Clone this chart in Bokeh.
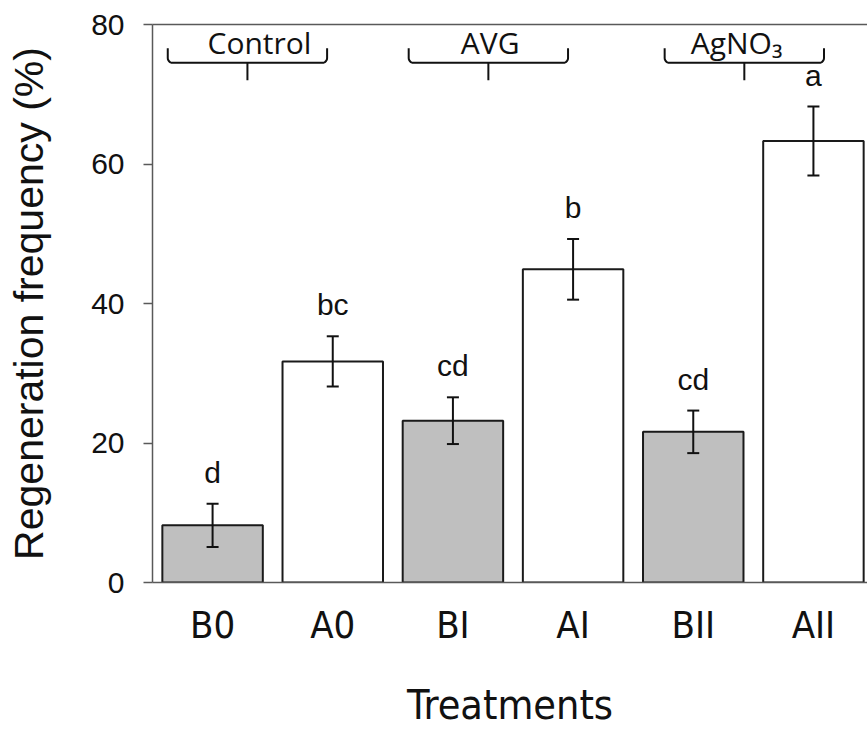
import numpy as np
from bokeh.plotting import figure
from bokeh.models import (Range1d, LinearAxis, Whisker, TeeHead, ColumnDataSource,
                          FixedTicker)
from bokeh.core.properties import value
from bokeh.embed import file_html
from bokeh.resources import INLINE

# ---- data ----
treatments = ["B0", "A0", "BI", "AI", "BII", "AII"]
means = [8.2, 31.7, 23.2, 44.9, 21.6, 63.3]
errors = [3.1, 3.6, 3.35, 4.35, 3.05, 4.95]
letters = ["d", "bc", "cd", "b", "cd", "a"]
groups = ["Control", "AVG", "AgNO\u2083"]
group_first = [0, 2, 4]
y_ticks = [0, 20, 40, 60, 80]

# ---- styles / layout ----
fill_by_kind = {"B": "#bfbfbf", "A": "#ffffff"}
AXIS_COLOR = "#595959"
TEXT_COLOR = "#111111"
NARROW = "'Liberation Sans Narrow', 'Arial Narrow', 'DejaVu Sans Condensed', 'Liberation Sans', sans-serif"
bracket_offset = [-0.21, -0.205, -0.075]
text_offset = [0.10, 0.015, -0.065]
bracket_hw = 0.663
y_mid, y_hook, y_stem, y_label = 74.5, 76.6, 72.0, 77.4
letter_gap = 4.5

x = list(range(len(treatments)))
colors = [fill_by_kind[t[0]] for t in treatments]
upper = [m + e for m, e in zip(means, errors)]
lower = [m - e for m, e in zip(means, errors)]
src = ColumnDataSource(dict(x=x, top=means, color=colors, upper=upper, lower=lower,
                            ly=[u + letter_gap for u in upper], letters=letters))

p = figure(width=867, height=731, x_range=Range1d(-0.5, 5.45), y_range=Range1d(0, 80),
           output_backend="svg", toolbar_location=None,
           min_border_left=152, min_border_right=0, min_border_top=24, min_border_bottom=148)
p.xgrid.visible = False
p.ygrid.visible = False
p.outline_line_color = None
p.background_fill_color = "white"
p.border_fill_color = "white"

p.vbar(x="x", top="top", bottom=0, width=0.836, fill_color="color", line_color="#1a1a1a",
       line_width=2, source=src)

w = Whisker(base="x", upper="upper", lower="lower", source=src, line_width=2, line_color="#111111",
            upper_head=TeeHead(size=12, line_width=2, line_color="#111111"),
            lower_head=TeeHead(size=12, line_width=2, line_color="#111111"),
            level="overlay")
p.add_layout(w)

p.text(x="x", y="ly", text="letters", source=src, text_align="center", text_baseline="alphabetic",
       text_font=value("Liberation Sans"), text_font_size=value("30px"), text_color=TEXT_COLOR)

# group braces
for i, g in enumerate(groups):
    cx = group_first[i] + 0.5 + bracket_offset[i]
    x0, x1 = cx - bracket_hw, cx + bracket_hw
    rx, ry = 0.04, 0.7
    t = np.linspace(0, np.pi / 2, 8)
    lx = list(x0 + rx - rx * np.cos(t))
    ly = list(y_mid + ry - ry * np.sin(t))
    rxs = list(x1 - rx + rx * np.sin(t))
    rys = list(y_mid + ry - ry * np.cos(t))
    bx = [x0] + lx + rxs + [x1]
    by = [y_hook] + ly + rys + [y_hook]
    p.line(bx, by, line_color="#111111", line_width=2)
    p.line([cx, cx], [y_mid, y_stem], line_color="#111111", line_width=2)
    p.text(x=[cx + text_offset[i]], y=[y_label], text=[g], text_align="center",
           text_baseline="alphabetic", text_font=value("Open Sans"),
           text_font_size=value("30px"), text_color=TEXT_COLOR)

# axes styling
xa = p.xaxis[0]
xa.ticker = FixedTicker(ticks=x)
xa.major_label_overrides = {i: t for i, t in zip(x, treatments)}
xa.major_tick_line_color = None
xa.minor_tick_line_color = None
xa.axis_line_color = AXIS_COLOR
xa.axis_line_width = 1.5
xa.major_label_text_font = NARROW
xa.major_label_text_font_size = "38px"
xa.major_label_text_color = TEXT_COLOR
xa.major_label_standoff = 14
xa.axis_label = "Treatments"
xa.axis_label_text_font = NARROW
xa.axis_label_text_font_size = "41px"
xa.axis_label_text_font_style = "normal"
xa.axis_label_text_color = TEXT_COLOR
xa.axis_label_standoff = 31

ya = p.yaxis[0]
ya.ticker = FixedTicker(ticks=y_ticks)
ya.minor_tick_line_color = None
ya.major_tick_out = 9
ya.major_tick_in = 0
ya.major_tick_line_color = AXIS_COLOR
ya.major_tick_line_width = 1.5
ya.axis_line_color = AXIS_COLOR
ya.axis_line_width = 1.5
ya.major_label_text_font = "Liberation Sans"
ya.major_label_text_font_size = "30px"
ya.major_label_text_color = TEXT_COLOR
ya.major_label_standoff = 19
ya.axis_label = "Regeneration frequency (%)"
ya.axis_label_text_font = "Liberation Sans"
ya.axis_label_text_font_size = "41px"
ya.axis_label_text_font_style = "normal"
ya.axis_label_text_color = TEXT_COLOR
ya.axis_label_standoff = 36

top_axis = LinearAxis(major_tick_line_color=None, minor_tick_line_color=None,
                      major_label_text_font_size="0px", axis_line_color=AXIS_COLOR,
                      axis_line_width=1.5, ticker=FixedTicker(ticks=[]))
p.add_layout(top_axis, "above")

open("out.html", "w").write(file_html(p, INLINE))
